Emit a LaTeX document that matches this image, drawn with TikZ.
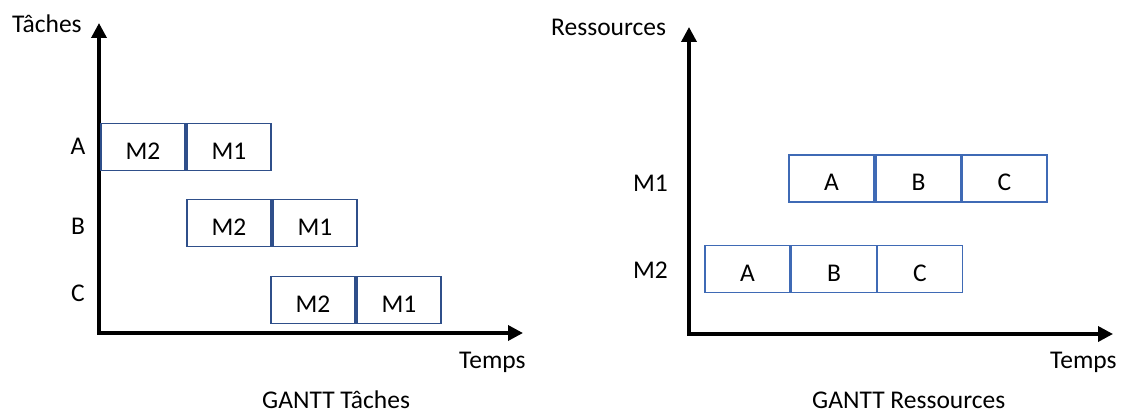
\documentclass[tikz,border=0pt]{standalone}
\usepackage{fontspec}
\setmainfont{Carlito}
\usetikzlibrary{arrows.meta}
\definecolor{navyline}{HTML}{2F4F8A}
\definecolor{blueline}{HTML}{3F6AB5}
\begin{document}
\begin{tikzpicture}[x=1pt,y=-1pt,
  every node/.style={font=\fontsize{25.5}{30}\selectfont, inner sep=0pt},
  axis/.style={line width=3.5pt, line join=miter,
    {Triangle[length=15pt,width=15pt]}-{Triangle[length=15pt,width=15pt]}},
  taskbox/.style={draw=navyline, line width=1.6pt, minimum width=84pt,
    minimum height=47pt, text height=25pt, text depth=0pt},
  resbox/.style={draw=blueline, line width=1.6pt, minimum width=85pt,
    minimum height=47pt, text height=25pt, text depth=0pt}]
\useasboundingbox (0,0) rectangle (1127,414);

% ---- task-oriented Gantt chart ----
\coordinate (tY) at (99,23);
\coordinate (tO) at (99,333);
\coordinate (tX) at (523,333);
\draw[axis] (tY) -- (tO) -- (tX);
\node[anchor=base west] (tAxisY) at (12,33) {Tâches};
\node[anchor=base west] (tAxisX) at (459,368) {Temps};
\node[anchor=base west] (tTitle) at (262,408) {GANTT Tâches};

\node[anchor=base] (tA) at (78,155) {A};
\node[anchor=base] (tB) at (78,235) {B};
\node[anchor=base] (tC) at (78,301) {C};

\node[taskbox] (aM2) at (143,147) {M2};
\node[taskbox] (aM1) at (229,147) {M1};
\node[taskbox] (bM2) at (229,223) {M2};
\node[taskbox] (bM1) at (315,223) {M1};
\node[taskbox] (cM2) at (313,300) {M2};
\node[taskbox] (cM1) at (399,300) {M1};

% ---- resource-oriented Gantt chart ----
\coordinate (rY) at (689,27);
\coordinate (rO) at (689,334);
\coordinate (rX) at (1113,334);
\draw[axis] (rY) -- (rO) -- (rX);
\node[anchor=base west] (rAxisY) at (551,36) {Ressources};
\node[anchor=base west] (rAxisX) at (1050,368) {Temps};
\node[anchor=base west] (rTitle) at (812,408) {GANTT Ressources};

\node[anchor=base east] (rM1) at (668,192) {M1};
\node[anchor=base east] (rM2) at (668,278) {M2};

\node[resbox] (m1A) at (831.5,178.5) {A};
\node[resbox] (m1B) at (918.5,178.5) {B};
\node[resbox] (m1C) at (1004.5,178.5) {C};
\node[resbox] (m2A) at (747.5,269) {A};
\node[resbox] (m2B) at (834,269) {B};
\node[resbox] (m2C) at (920,269) {C};
\end{tikzpicture}
\end{document}
